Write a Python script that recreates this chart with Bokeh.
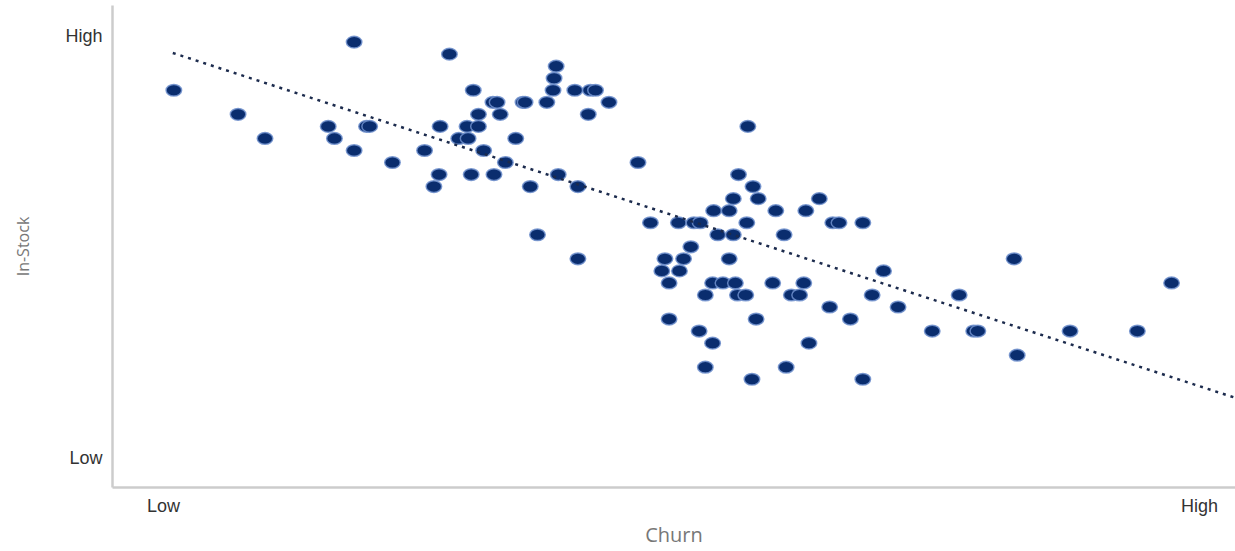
from bokeh.plotting import figure
from bokeh.models import Range1d, FixedTicker, ColumnDataSource
from bokeh.embed import file_html
from bokeh.resources import INLINE

# Churn (0 = Low, 100 = High) and In-Stock (0 = Low, 35 = High)
churn = [1.0, 7.2, 9.8, 15.9, 16.5, 19.6, 19.9, 18.4, 18.4, 22.1,
         25.2, 26.7, 26.6, 26.1, 27.6, 28.5, 29.4, 29.3, 30.4, 30.4,
         29.9, 30.9, 29.7, 31.9, 31.8, 32.2, 32.5, 33.0, 34.0, 34.7,
         34.9, 35.4, 36.1, 37.0, 37.6, 37.7, 37.9, 38.1, 39.7, 40.0,
         40.0, 41.0, 41.2, 41.7, 43.0, 45.8, 55.5, 56.9, 55.0, 57.4,
         63.3, 53.1, 54.6, 59.1, 62.0, 47.0, 49.7, 51.2, 51.8, 56.3,
         64.6, 65.2, 67.5, 53.5, 55.0, 59.9, 50.9, 48.4, 50.2, 54.6,
         48.1, 49.8, 69.5, 48.8, 53.0, 54.0, 55.2, 58.8, 61.8, 52.3,
         55.4, 56.2, 60.6, 61.4, 68.4, 64.3, 70.9, 48.8, 57.2, 66.3,
         51.7, 53.0, 62.3, 52.3, 60.1, 56.8, 67.5, 56.4, 82.1, 97.3,
         76.8, 74.2, 78.2, 78.6, 87.5, 94.0, 82.4]
in_stock = [30.5, 28.5, 26.5, 27.5, 26.5, 27.5, 27.5, 34.5, 25.5, 24.5,
            25.5, 27.5, 23.5, 22.5, 33.5, 26.5, 26.5, 27.5, 27.5, 28.5,
            30.5, 25.5, 23.5, 23.5, 29.5, 29.5, 28.5, 24.5, 26.5, 29.5,
            29.5, 22.5, 18.5, 29.5, 30.5, 31.5, 32.5, 23.5, 30.5, 22.5,
            16.5, 28.5, 30.5, 30.5, 29.5, 24.5, 23.5, 22.5, 21.5, 21.5,
            21.5, 20.5, 20.5, 20.5, 20.5, 19.5, 19.5, 19.5, 19.5, 19.5,
            19.5, 19.5, 19.5, 18.5, 18.5, 18.5, 17.5, 16.5, 16.5, 16.5,
            15.5, 15.5, 15.5, 14.5, 14.5, 14.5, 14.5, 14.5, 14.5, 13.5,
            13.5, 13.5, 13.5, 13.5, 13.5, 12.5, 12.5, 11.5, 11.5, 11.5,
            10.5, 9.5, 9.5, 7.5, 7.5, 6.5, 6.5, 27.5, 16.5, 14.5,
            13.5, 10.5, 10.5, 10.5, 10.5, 10.5, 8.5]

trend_x = [0.9, 103.3]
trend_y = [33.6, 5.0]

x_ticks = [0, 100]
x_tick_labels = ["Low", "High"]
y_ticks = [0, 35]
y_tick_labels = ["Low", "High"]

p = figure(width=1235, height=551, output_backend="svg", toolbar_location=None,
           x_range=Range1d(-4.92, 103.47), y_range=Range1d(-2.49, 37.54),
           min_border_left=112, min_border_right=0, min_border_top=5,
           min_border_bottom=64)
p.outline_line_color = None
p.xgrid.grid_line_color = None
p.ygrid.grid_line_color = None
p.background_fill_color = "white"
p.border_fill_color = "white"

src = ColumnDataSource(dict(x=churn, y=in_stock))
p.ellipse(x="x", y="y", width=1.5, height=0.97, source=src,
          fill_color="#0a2d6e", line_color="#6f8fcc", line_width=1.5, line_alpha=0.85)

p.line(trend_x, trend_y, line_color="#1c2b4d", line_width=2.5, line_dash="3 5")

for ax, ticks, labels in ((p.xaxis[0], x_ticks, x_tick_labels), (p.yaxis[0], y_ticks, y_tick_labels)):
    ax.ticker = FixedTicker(ticks=ticks)
    ax.major_label_overrides = {t: l for t, l in zip(ticks, labels)}
    ax.major_tick_line_color = None
    ax.minor_tick_line_color = None
    ax.axis_line_color = "#cccccc"
    ax.axis_line_width = 2.5
    ax.major_label_text_font = "Liberation Sans"
    ax.major_label_text_font_size = "18px"
    ax.major_label_text_color = "#333333"
    ax.axis_label_text_font = "Open Sans"
    ax.axis_label_text_font_style = "normal"
    ax.axis_label_text_color = "#777777"

p.xaxis.axis_label = "Churn"
p.xaxis.axis_label_text_font_size = "20px"
p.xaxis.major_label_standoff = 2
p.xaxis.axis_label_standoff = 2
p.yaxis.axis_label = "In-Stock"
p.yaxis.axis_label_text_font_size = "16px"
p.yaxis.major_label_standoff = 4
p.yaxis.axis_label_standoff = 28

open("out.html", "w").write(file_html(p, INLINE))
